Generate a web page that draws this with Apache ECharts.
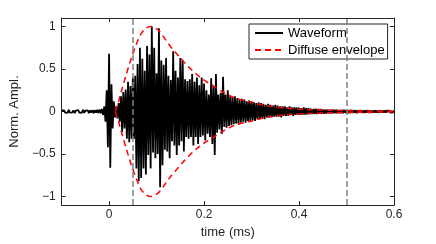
<!DOCTYPE html>
<html>
<head>
<meta charset="utf-8">
<script src="https://cdn.jsdelivr.net/npm/echarts@6/dist/echarts.min.js"></script>
<style>html,body{margin:0;padding:0;background:#fff}#c{width:436px;height:244px}</style>
</head>
<body>
<div id="c"></div>
<script>
// Sample grid of the waveform (ms)
const waveStart = -0.1;
const waveStep = 0.0025;
// Waveform amplitude, one value per sample
const waveform = [
  0.012,-0.01,0.015,-0.012,0.01,-0.015,0.02,-0.012,0.01,-0.01,
  0.014,-0.018,0.012,-0.01,0.016,-0.012,0.01,-0.014,0.02,-0.015,
  0.012,-0.01,0.015,-0.018,0.014,-0.012,0.018,-0.02,0.015,-0.012,
  0.02,-0.018,0.025,-0.02,0.03,
  -0.04,0.06,-0.12,0.25,-0.42,0.68,-0.66,0.32,-0.2,0.12,-0.07,
  0.06,-0.08,0.1,-0.12,0.18,-0.24,0.23,-0.2,0.26,-0.32,0.35,-0.36,0.3,-0.32,0.4,
  -0.32,0.42,-0.67,0.56,-0.82,0.75,-0.78,0.62,-0.67,0.48,
  -0.74,0.77,-0.51,0.67,-0.67,1.0,-0.48,0.75,-0.55,0.45,
  -0.5,0.98,-0.89,0.6,-0.63,0.55,-0.45,0.63,-0.47,0.42,
  -0.55,0.37,-0.35,0.71,-0.4,0.48,-0.51,0.4,-0.4,0.63,
  -0.35,0.6,-0.47,0.38,-0.3,0.36,-0.32,0.38,-0.3,0.44,
  -0.4,0.35,-0.3,0.4,-0.38,0.31,-0.3,0.4,-0.28,0.33,
  -0.34,0.25,-0.26,0.2,-0.3,0.39,-0.38,0.3,-0.51,0.44,
  -0.25,0.2,-0.21,0.22,-0.26,0.41,-0.18,0.2,-0.19,0.25,
  -0.17,0.18,-0.16,0.17,-0.15,0.18,-0.14,0.16,-0.15,0.14,
  -0.13,0.15,-0.12,0.14,-0.13,0.12,-0.11,0.13,-0.11,0.12,
  -0.1,0.11,-0.11,0.1,-0.09,0.11,-0.09,0.1,-0.08,0.09,
  -0.09,0.08,-0.07,0.09,-0.07,0.08,-0.07,0.07,-0.06,0.08,
  -0.06,0.07,-0.06,0.06,-0.07,0.06,-0.05,0.06,-0.05,0.05,
  -0.05,0.06,-0.04,0.05,-0.05,0.05,-0.04,0.05,-0.04,0.045,
  -0.04,0.04,-0.04,0.05,-0.035,0.04,-0.035,0.04,-0.03,0.035,
  -0.03,0.03,-0.03,0.035,-0.03,0.03,-0.025,0.03,-0.025,0.025,
  -0.025,0.02,-0.022,0.025,-0.02,0.018,-0.022,0.025,-0.02,0.02,
  -0.018,0.022,-0.02,0.018,-0.02,0.022,-0.018,0.02,-0.016,0.018,
  -0.02,0.016,-0.018,0.02,-0.015,0.018,-0.016,0.015,-0.018,0.016,
  -0.014,0.016,-0.015,0.014,-0.016,0.015,-0.013,0.015,-0.014,0.013,
  -0.015,0.014,-0.012,0.014,-0.013,0.012,-0.014,0.013,-0.012,0.013,
  -0.012,0.012,-0.013,0.012,-0.011,0.012,-0.012,0.011,-0.012,0.011
];
// Diffuse envelope
const envTimes = [0.013,0.02,0.027,0.037,0.047,0.058,0.068,0.078,0.087,0.103,0.117,0.13,0.144,0.158,0.172,0.186,0.2,0.22,0.24,0.265,0.3,0.33,0.37,0.42,0.47,0.52,0.6];
const envUpper = [0,0.12,0.26,0.45,0.63,0.8,0.92,0.98,1.0,0.96,0.86,0.76,0.67,0.58,0.5,0.43,0.37,0.3,0.23,0.16,0.11,0.07,0.04,0.023,0.014,0.009,0.005];
const envLower = [0,-0.12,-0.26,-0.45,-0.63,-0.8,-0.92,-0.98,-1.0,-0.96,-0.86,-0.76,-0.67,-0.58,-0.5,-0.43,-0.37,-0.3,-0.23,-0.16,-0.11,-0.07,-0.04,-0.023,-0.014,-0.009,-0.005];
// Vertical marker times
const markerTimes = [0.05, 0.5];
// Tick labels
const xTicks = [0, 0.2, 0.4, 0.6];
const yTicks = [-1, -0.5, 0, 0.5, 1];

const FONT = 'Liberation Sans, Arial, Helvetica, sans-serif';
const AX = '#262626';

const waveData = waveform.map((v, i) => [waveStart + i * waveStep, v]);
const upData = envTimes.map((t, i) => [t, envUpper[i]]);
const loData = envTimes.map((t, i) => [t, envLower[i]]);

const fmt = v => String(v).replace('-', '\u2212');

function xAx(pos, labels) {
  return {
    type: 'value', min: -0.1, max: 0.6, position: pos,
    axisLine: { show: true, onZero: false, lineStyle: { color: AX, width: 1 } },
    axisTick: { show: true, inside: true, length: 4, customValues: xTicks, lineStyle: { color: AX, width: 1 } },
    axisLabel: { show: labels, customValues: xTicks, fontSize: 12, color: AX, fontFamily: FONT, margin: 4, formatter: fmt },
    splitLine: { show: false },
    name: labels ? 'time (ms)' : '', nameLocation: 'middle', nameGap: 13,
    nameTextStyle: { fontSize: 13, color: AX, fontFamily: FONT }
  };
}
function yAx(pos, labels) {
  return {
    type: 'value', min: -1.1, max: 1.1, position: pos,
    axisLine: { show: true, onZero: false, lineStyle: { color: AX, width: 1 } },
    axisTick: { show: true, inside: true, length: 4, customValues: yTicks, lineStyle: { color: AX, width: 1 } },
    axisLabel: { show: labels, customValues: yTicks, fontSize: 12, color: AX, fontFamily: FONT, margin: 6, formatter: fmt },
    splitLine: { show: false },
    name: labels ? 'Norm. Ampl.' : '', nameLocation: 'middle', nameGap: 34,
    nameTextStyle: { fontSize: 13, color: AX, fontFamily: FONT }
  };
}

const chart = echarts.init(document.getElementById('c'), null, { renderer: 'canvas' });
chart.setOption({
  animation: false,
  backgroundColor: '#fff',
  grid: { left: 57, right: 42, top: 18, bottom: 34, containLabel: false },
  xAxis: [xAx('bottom', true), xAx('top', false)],
  yAxis: [yAx('left', true), yAx('right', false)],
  legend: {
    data: ['Waveform', 'Diffuse envelope'],
    orient: 'vertical', left: 249, top: 24,
    itemWidth: 28, itemHeight: 14, itemGap: 3,
    padding: [2, 3, 2, 5],
    borderColor: AX, borderWidth: 1, backgroundColor: '#fff',
    itemStyle: { opacity: 0 },
    textStyle: { fontSize: 13, color: '#000', fontFamily: FONT, lineHeight: 14 },
    selectedMode: false
  },
  series: [
    {
      name: 'Waveform', type: 'line', data: waveData,
      symbol: 'none', showSymbol: false, sampling: 'none',
      color: '#000', lineStyle: { color: '#000', width: 1.8 }, z: 2
    },
    {
      name: 'Diffuse envelope', type: 'line', data: upData, smooth: 0.3,
      symbol: 'none', showSymbol: false,
      color: '#ff0000', lineStyle: { color: '#ff0000', width: 1.5, type: [6, 4] }, z: 3
    },
    {
      name: 'Diffuse envelope', type: 'line', data: loData, smooth: 0.3,
      symbol: 'none', showSymbol: false,
      color: '#ff0000', lineStyle: { color: '#ff0000', width: 1.5, type: [6, 4] }, z: 3
    },
    {
      name: 'markers', type: 'line', data: [], symbol: 'none', z: 4,
      markLine: {
        silent: true, symbol: 'none', label: { show: false },
        lineStyle: { color: '#808080', width: 1.5, type: [6, 3] },
        data: markerTimes.map(t => ({ xAxis: t }))
      }
    }
  ]
});
</script>
</body>
</html>
